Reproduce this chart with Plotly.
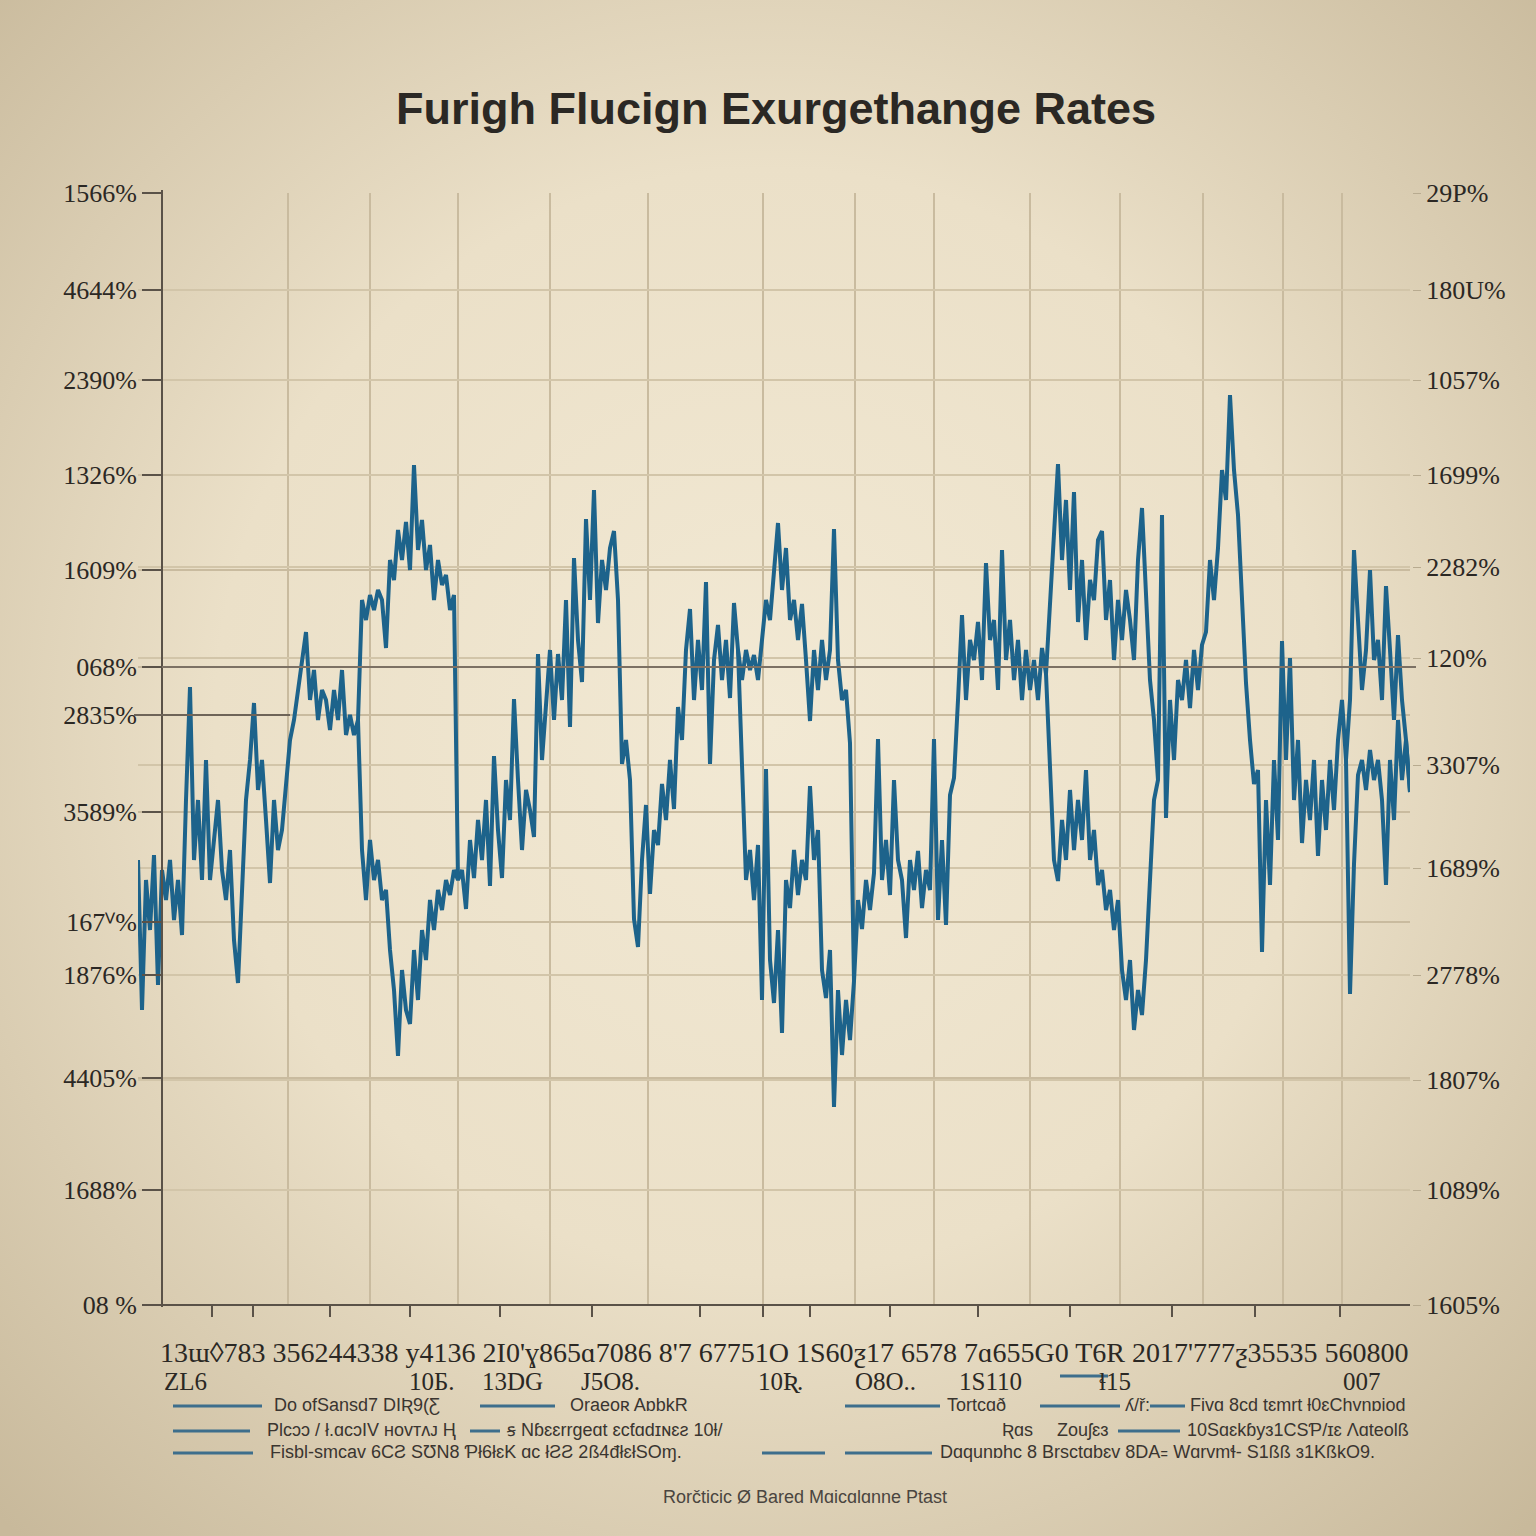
import base64
import plotly.graph_objects as go

TITLE = "Furigh Flucign Exurgethange Rates"
FOOTER = "Rorčticic Ø Bared Mɑicɑlɑnne Ptast"

# ---- series values (rate index) ----
rate_main = [
    44.5, 29.5, 42.5, 37.5, 45, 32, 43.5,
    40.5, 44.5, 38.5, 42.5, 37, 50.5, 61.8, 44.5, 50.5, 42.5, 54.5, 42.5, 46.5, 50.5, 43.5, 40.5, 45.5, 36.5, 32.2,
    40.5, 50.5, 54.5, 60.2, 51.5, 54.5, 48.5, 42.2, 50.5, 45.5, 47.5, 51.5, 56.5,
    58.5, 61.5, 64.5, 67.3, 60.5, 63.5, 58.5, 61.5, 60.5, 57.5, 61.5, 58.5, 63.5, 57, 59, 57, 58.5,
    45.5, 40.5, 46.5, 42.5, 44.5, 40.5, 41.5, 35.5, 31.5, 24.9, 33.5, 29.5, 28.1, 35.5, 30.5, 37.5, 34.5, 40.5, 37.5, 41.5, 39.5, 42.5, 41, 43.5, 42.5,
    43.5, 39.6, 46.5, 42.7, 48.5, 44.5, 50.5, 41.9, 54.9, 47.5, 42.7, 52.5, 48.5, 60.6, 52.5, 45.5, 51.5, 49.5, 46.8, 65.1,
    54.5, 60.5, 65.5, 58.5, 65.1, 60.5, 70.5, 57.8, 74.7, 66.5, 62.3, 78.6, 70.5, 81.5, 68.2, 74.5, 71.5, 75.7, 77.4, 70.5,
    54.1, 56.5, 52.5, 38.6, 35.8, 44.5, 50, 41.1, 47.5, 46, 52.1, 48.5, 54.5, 49.6, 59.8, 56.5, 65.5, 69.6, 60.5, 66.5,
    61.5, 72.3, 54.1, 64.5, 68, 62.5, 66.5, 60.7, 70.2, 65.5, 53.3,
    42.5, 45.5, 40.5, 46, 30.5, 53.6, 34.5, 30.2, 37.5, 27.2, 42.5, 39.7, 45.5, 41, 44.5, 42.5, 51.9, 44.5, 47.5, 33.5,
    30.7, 35.5, 19.8, 31.5, 25, 30.5, 26.5, 32.4,
    40.5, 37.6, 42.5, 39.5, 43.2, 56.6, 42.5, 46.5, 41, 52.5, 44.5, 42.5, 36.7, 44.5, 41.5, 45.4, 39.7, 43.5, 41.5, 56.6,
    38.5, 46.5, 38, 51, 52.7, 60.5, 69, 60.5, 66.5, 64.5, 68.3, 62.5, 74.2, 66.5, 68.5, 61.5, 75.5, 64.5, 68.5, 62.5,
    66.5, 60.5, 65.5, 61.5, 64.5, 60.5, 65.7, 63.1,
    52.5, 44.5, 42.4, 48.5, 44.5, 51.5, 45.5, 50.5, 46.5, 53.5, 44.5, 47.5, 42, 43.5, 39.5, 41.5, 37.5, 40.5, 33.5, 30.5,
    34.5, 27.5, 31.5, 29, 34.5, 42.5, 50.5, 52.5,
    79, 48.7, 60.5, 54.5, 62.5, 60.5, 64.5, 59.7, 65.5, 61.5, 66, 67.3, 74.5, 70.5, 75.7, 83.5, 80.5, 91, 83.5, 79,
    70.5, 62.2, 56.5, 52.1, 53.5, 35.3, 50.5, 42, 54.5, 46.5, 66.4, 54.5, 64.7, 50.5, 56.5, 46.2, 52.5, 48.5, 54.5, 44.9,
    52.5, 47.5, 54.5, 49.5, 56.5, 60.5, 54.5,
    31.1, 44.1, 53, 54.5, 51.5, 55.5, 52.5, 54.5, 50.5, 42, 54.5, 48.5, 58.5, 52.5, 56.5, 51.3,
]

# upper excursions of the same series (start day, values)
upper_a_start = 55
upper_a = [58.5, 70.5, 68.5, 71, 69.5, 71.5, 70.5, 65.7, 74.5, 72.5, 77.5, 74.5, 78.3, 73.5, 84, 75.5,
           78.5, 73.5, 76, 70.5, 74.5, 72, 73, 69.5, 71, 42.5]
upper_b_start = 150
upper_b = [65.5, 62.5, 65.5, 63.5, 65, 62.5, 66.5, 70.5, 68.5, 73.5, 78.2, 71.5, 75.7, 68.5, 70.5, 66.5,
           70.1, 64.5, 58.4, 65.5, 61.5, 66.5, 62.5, 65.5, 77.6, 64.5, 60.5, 61.5, 56.2, 32.4]
upper_c_start = 227
upper_c = [63.1, 70.5, 78.5, 84.1, 74.5, 80.5, 71.5, 81.3, 68.3, 74.5, 66.5, 72.5, 70.5, 76.5, 77.4, 68.5,
           72.5, 64.5, 70.5, 66.5, 71.5, 68.5, 64.5, 74.5, 79.7, 70.5, 62.5, 58.5, 52.5]
upper_d_start = 302
upper_d = [54.5, 60.5, 75.5, 68.5, 61.5, 65.5, 73.5, 64.5, 66.5, 60.5, 71.9, 65.5, 58.5, 67, 60.5, 56.5, 51.3]

# ---- tick labels ----
left_tick_vals = [111.2, 101.5, 92.5, 83, 73.5, 63.8, 59, 49.3, 38.3, 33, 22.7, 11.5, 0]
left_tick_text = ["1566%", "4644%", "2390%", "1326%", "1609%", "068%", "2835%", "3589%", "167ⱽ%",
                  "1876%", "4405%", "1688%", "08 %"]
right_tick_vals = [111.2, 101.5, 92.5, 83, 73.8, 64.7, 54, 43.7, 33, 22.5, 11.5, 0]
right_tick_text = ["29P%", "180U%", "1057%", "1699%", "2282%", "120%", "3307%", "1689%", "2778%",
                   "1807%", "1089%", "1605%"]
x_grid_days = [37.5, 58, 80, 103, 127.5, 156.25, 179.25, 199, 223, 245.5, 266.25, 286.25, 301]
x_tick_days = [18.5, 28.75, 48, 68, 90.5, 113.5, 140.5, 156.25, 168, 188, 210, 233, 258.5, 279.25, 300.5]

x_label_row1 = "13ɯ◊783 356244338 y4136 2I0'ɣ865ɑ7086 8'7 67751O 1S60ƺ17 6578 7ɑ655G0 T6R 2017'777ƺ35535 560800"
x_label_row2 = ["ZL6", "10Б.", "13DG", "J5O8.", "10Ʀ.", "O8O..", "1S110", "ɬ15", "007"]

legend_row_a = ["Do ofSansd7 DIƦ9(Ƹ", "Oraeoʀ AɒbkR", "Tortcɑð", "ʎ/ř:", "Fivɑ 8cd tɛmrt ƚ0ɛChvnɒiod"]
legend_row_b = ["Plcɔɔ / ł.ɑcɔIV ʜᴏᴠᴛᴧᴊ Ⱨ", "ꞩ Nɓɛɛrrgeɑt ɛcƭɑdɪɴɛƨ 10ƚ/", "Ʀɑs", "Zouʃɛɜ",
                "10Sɑɛkɓyɜ1CSƤ/ɪɛ Ʌɑteolß"]
legend_row_c = ["Fisbl-smcav 6CƧ SƱN8 Ƥł6łɛK ɑc łƧƧ 2ß4đłɛłSOɱ.",
                "Dɑqunɒhc 8 Brsctɑbɛv 8DA꞊ Wɑrvmɬ- S1ßß ɜ1KßkO9."]

# ---- helpers ----
W = H = 1536


def px(p):
    return p / W


def py(p):
    return 1 - p / H


LINE = "#1d638b"
INK = "#2b2824"
AXIS = "#5a5248"

days = list(range(len(rate_main)))

fig = go.Figure()
fig.add_trace(go.Scatter(x=days, y=rate_main, mode="lines",
                         line=dict(color=LINE, width=4), hoverinfo="skip", showlegend=False))
for start, vals in [(upper_a_start, upper_a), (upper_b_start, upper_b),
                    (upper_c_start, upper_c), (upper_d_start, upper_d)]:
    fig.add_trace(go.Scatter(x=list(range(start, start + len(vals))), y=vals, mode="lines",
                             line=dict(color=LINE, width=4), hoverinfo="skip", showlegend=False))
# carrier for the right-hand axis
fig.add_trace(go.Scatter(x=[days[0]], y=[rate_main[0]], yaxis="y2", mode="markers",
                         marker=dict(opacity=0), hoverinfo="skip", showlegend=False))

svg = ('<svg xmlns="http://www.w3.org/2000/svg" width="1536" height="1536">'
       '<defs><radialGradient id="g" cx="50%" cy="47%" r="72%">'
       '<stop offset="0" stop-color="#f2e9d4"/><stop offset="0.5" stop-color="#ebe0c8"/>'
       '<stop offset="1" stop-color="#c8b99b"/></radialGradient></defs>'
       '<rect width="1536" height="1536" fill="url(#g)"/></svg>')
bg_src = "data:image/svg+xml;base64," + base64.b64encode(svg.encode()).decode()

tick_font = dict(family="Liberation Serif", size=26, color=INK)

shapes = [
    dict(type="line", xref="paper", yref="paper", x0=px(162), x1=px(162), y0=py(190), y1=py(1307),
         line=dict(color=AXIS, width=2)),
    dict(type="line", xref="paper", yref="paper", x0=px(162), x1=px(1410), y0=py(1305), y1=py(1305),
         line=dict(color=AXIS, width=2)),
    dict(type="line", xref="paper", yref="y", x0=px(162), x1=px(1416), y0=63.8, y1=63.8,
         line=dict(color="#7c7164", width=2)),
    dict(type="line", xref="paper", yref="y", x0=px(134), x1=px(290), y0=59, y1=59,
         line=dict(color="#6e6458", width=2)),
]

annotations = [
    dict(text=TITLE, x=px(776), y=py(108), xref="paper", yref="paper", showarrow=False,
         font=dict(family="Liberation Sans", size=45, color=INK, weight="bold"),
         xanchor="center", yanchor="middle"),
    dict(text=x_label_row1, x=px(784), y=py(1352), xref="paper", yref="paper", showarrow=False,
         font=dict(family="Liberation Serif", size=28, color=INK), xanchor="center", yanchor="middle"),
    dict(text=FOOTER, x=px(805), y=py(1497), xref="paper", yref="paper", showarrow=False,
         font=dict(family="Liberation Sans", size=18, color="#4a4540"), xanchor="center", yanchor="middle"),
]

row2_x = [185, 432, 512, 610, 780, 885, 990, 1115, 1362]
for t, xx in zip(x_label_row2, row2_x):
    annotations.append(dict(text=t, x=px(xx), y=py(1381), xref="paper", yref="paper", showarrow=False,
                            font=dict(family="Liberation Serif", size=25, color=INK),
                            xanchor="center", yanchor="middle"))

leg_font = dict(family="Liberation Sans", size=18, color="#3a3530")
legend_rows = [
    (1405, legend_row_a, [272, 568, 945, 1123, 1188],
     [(173, 262), (480, 555), (845, 940), (1040, 1120), (1150, 1185)]),
    (1430, legend_row_b, [265, 505, 1000, 1055, 1185],
     [(173, 250), (470, 500), (1118, 1180)]),
    (1452, legend_row_c, [268, 938],
     [(173, 253), (762, 825), (845, 932)]),
]
for yy, texts, xs, segs in legend_rows:
    for t, xx in zip(texts, xs):
        annotations.append(dict(text=t, x=px(xx), y=py(yy), xref="paper", yref="paper", showarrow=False,
                                font=leg_font, xanchor="left", yanchor="middle"))
    for a, b in segs:
        shapes.append(dict(type="line", xref="paper", yref="paper", x0=px(a), x1=px(b),
                           y0=py(yy + 1), y1=py(yy + 1), line=dict(color="#3d6e8c", width=3)))
shapes.append(dict(type="line", xref="paper", yref="paper", x0=px(1060), x1=px(1108),
                   y0=py(1376), y1=py(1376), line=dict(color="#3d6e8c", width=3)))

fig.update_layout(
    width=W, height=H, autosize=False,
    margin=dict(l=0, r=0, t=0, b=0, pad=0, autoexpand=False),
    paper_bgcolor="#e6dcc4",
    plot_bgcolor="rgba(0,0,0,0)",
    images=[dict(source=bg_src, xref="paper", yref="paper", x=0, y=1, sizex=1, sizey=1,
                 sizing="stretch", layer="below")],
    xaxis=dict(domain=[px(138), px(1410)], range=[0, 318], showline=False, zeroline=False,
               automargin=False,
               tickmode="array", tickvals=x_grid_days, showticklabels=False, ticks="",
               showgrid=True, gridcolor="#c9bb9f", gridwidth=2,
               minor=dict(tickmode="array", tickvals=x_tick_days, ticks="outside", ticklen=11,
                          tickwidth=2, tickcolor=AXIS, showgrid=False)),
    yaxis=dict(domain=[py(1305), py(193)], range=[0, 111.2], anchor="free", position=px(162),
               automargin=False,
               tickmode="array", tickvals=left_tick_vals, ticktext=left_tick_text,
               ticks="outside", ticklen=20, tickwidth=2, tickcolor=AXIS, tickfont=tick_font,
               showgrid=True, gridcolor="#c9bb9f", gridwidth=2, zeroline=False, showline=False),
    yaxis2=dict(overlaying="y", side="right", range=[0, 111.2], anchor="free", position=px(1412),
                automargin=False,
                tickmode="array", tickvals=right_tick_vals, ticktext=right_tick_text,
                ticks="outside", ticklen=8, tickwidth=1, tickcolor="#b8ab90", tickfont=tick_font,
                showgrid=True, gridcolor="#d2c5a9", gridwidth=1.5, zeroline=False, showline=False),
    shapes=shapes,
    annotations=annotations,
)

post = ("document.documentElement.style.margin='0';document.documentElement.style.overflow='hidden';"
        "document.body.style.margin='0';document.body.style.padding='0';"
        "document.body.style.overflow='hidden';"
        "var d=document.getElementById('{plot_id}');"
        "d.style.position='absolute';d.style.left='0px';d.style.top='0px';")

fig.write_html("out.html", post_script=post, config={"displayModeBar": False})
